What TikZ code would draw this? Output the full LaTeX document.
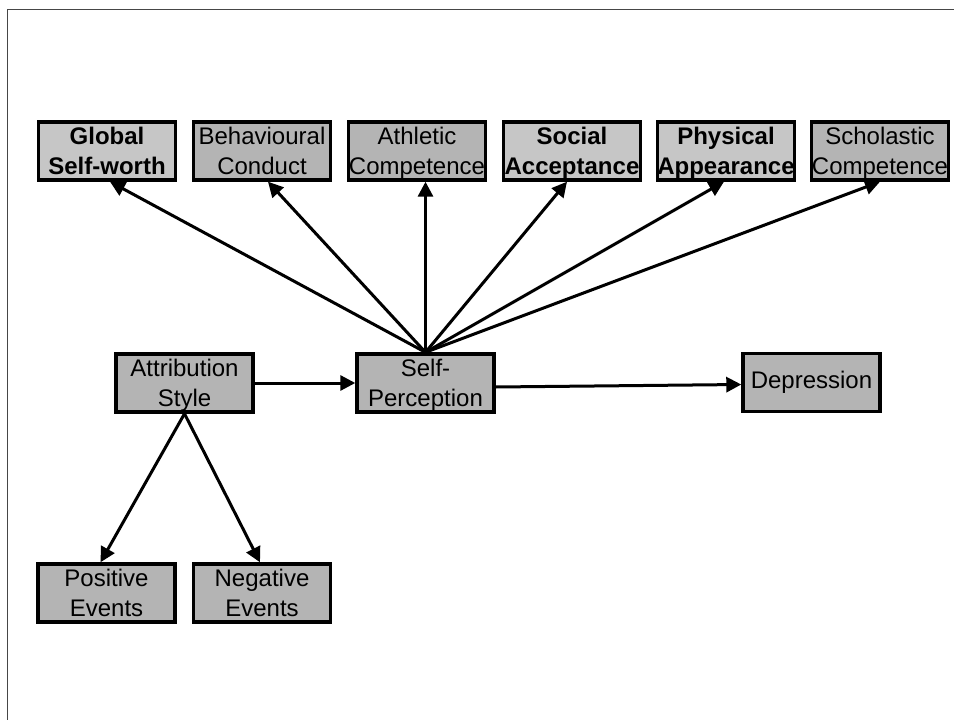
\documentclass[tikz,border=0pt]{standalone}
\usepackage{fontspec}
\setmainfont{Liberation Sans}
\usetikzlibrary{arrows.meta}
\definecolor{boxdark}{RGB}{180,180,180}
\definecolor{boxlight}{RGB}{198,198,198}
\definecolor{framegray}{RGB}{70,70,70}
% last line of a label: keep its height, drop its depth so the caps sit centred
\newcommand\lastline[1]{\raisebox{0pt}[\height][0pt]{#1}}
\tikzset{
  box/.style={draw=black, line width=3.4pt, fill=boxdark, minimum width=137pt,
    minimum height=58pt, inner sep=0pt, align=center,
    font=\fontsize{24}{29.7}\selectfont},
  keybox/.style={box, fill=boxlight, font=\fontsize{24}{29.7}\selectfont\bfseries},
  link/.style={line width=3pt, -{Triangle[length=15pt,width=15pt]}}
}
\begin{document}
\begin{tikzpicture}[x=1pt,y=-1pt]
\useasboundingbox (0,0) rectangle (954,720);
% page frame (top and left edges)
\draw[framegray, line width=1.5pt] (7.5,720) -- (7.5,9.5) -- (954,9.5);

% self-perception domains
\node[keybox] (gsw) at (107,151) {Global\\\lastline{Self-worth}};
\node[box]    (bc)  at (262,151) {Behavioural\\\lastline{Conduct}};
\node[box]    (ac)  at (417,151) {Athletic\\\lastline{Competence}};
\node[keybox] (sa)  at (572,151) {Social\\\lastline{Acceptance}};
\node[keybox] (pa)  at (726,151) {Physical\\\lastline{Appearance}};
\node[box]    (sc)  at (880,151) {Scholastic\\\lastline{Competence}};

% model chain
\node[box] (as)  at (184.5,383) {Attribution\\\lastline{Style}};
\node[box] (sp)  at (425.5,383) {Self-\\\lastline{Perception}};
\node[box] (dep) at (811.5,382.5) {Depression};

% event types
\node[box] (pe) at (106.5,593) {Positive\\\lastline{Events}};
\node[box] (ne) at (262,593) {Negative\\\lastline{Events}};

% connectors
\draw[link] (sp.north) -- ([xshift=3pt]gsw.south);
\draw[link] (sp.north) -- ([xshift=6pt]bc.south);
\draw[link] (sp.north) -- (sp.north |- ac.south);
\draw[link] (sp.north) -- ([xshift=-5pt]sa.south);
\draw[link] (sp.north) -- ([xshift=-2pt]pa.south);
\draw[link] (sp.north) -- (sc.south);

\draw[link] (as.east) -- (sp.west);
\draw[link] ([yshift=-4pt]sp.east) -- ([yshift=-2pt]dep.west);

\draw[link] (as.south) -- ([xshift=-6pt]pe.north);
\draw[link] (as.south) -- ([xshift=-2pt]ne.north);
\end{tikzpicture}
\end{document}
